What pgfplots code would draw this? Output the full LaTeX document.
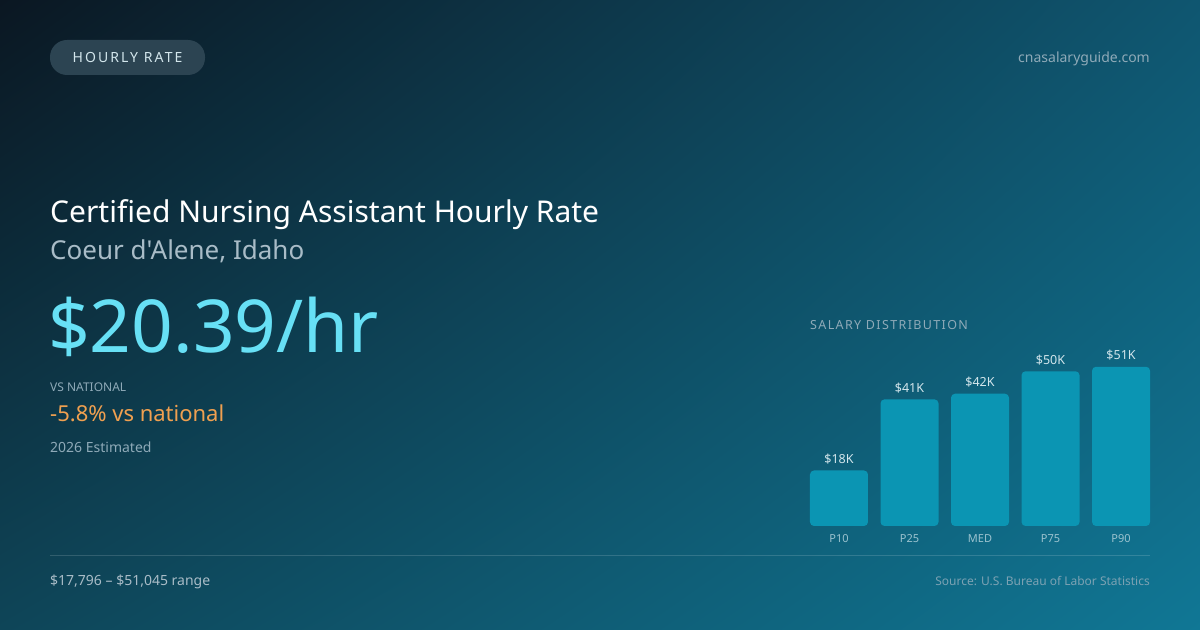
\documentclass[border=0pt]{standalone}
\usepackage{pgfplots}
\pgfplotsset{compat=1.18}
\usetikzlibrary{shadings}
\usepackage{fontspec}
\setmainfont{Noto Sans}
\newfontfamily\plainfont{Noto Sans}
\newfontfamily\spaced[LetterSpace=15]{Noto Sans}
\newfontfamily\spacedb[LetterSpace=11]{Noto Sans}
\newcommand\fs[1]{\fontsize{#1bp}{#1bp}\selectfont}

\definecolor{bgUL}{HTML}{0B1722}
\definecolor{bgUR}{HTML}{0F5670}
\definecolor{bgLL}{HTML}{0E4558}
\definecolor{bgLR}{HTML}{107795}
\definecolor{barcol}{HTML}{0B95B3}
\definecolor{bigcyan}{HTML}{67E0F5}
\definecolor{orangeT}{HTML}{F0A050}
\definecolor{mutedT}{HTML}{8FAAB8}
\definecolor{subT}{HTML}{A9BCC7}
\definecolor{lightT}{HTML}{D3E6EC}
\definecolor{tickT}{HTML}{9CC3CF}
\definecolor{badge}{HTML}{2C4452}

\begin{document}
\begin{tikzpicture}[x=1bp,y=1bp]
% background
\shade[upper left=bgUL, upper right=bgUR, lower left=bgLL, lower right=bgLR]
  (0,0) rectangle (1200,630);

% badge
\fill[badge, rounded corners=17bp] (50,555) rectangle (205,590);
\node[anchor=base, text=lightT, inner sep=0] at (127.5,567)
  {\spaced\fs{14}HOURLY RATE};
\node[anchor=base east, text=mutedT, inner sep=0] at (1150,567)
  {\fs{14}cnasalaryguide.com};

% headline block
\node[anchor=base west, text=white, inner sep=0] at (50,407)
  {\fs{30}Certified Nursing Assistant Hourly Rate};
\node[anchor=base west, text=subT, inner sep=0] at (50,370)
  {\plainfont\fs{26}Coeur d'Alene, Idaho};
\node[anchor=base west, text=bigcyan, inner sep=0] at (48,277)
  {\fs{73}\$20.39/hr};
\node[anchor=base west, text=mutedT, inner sep=0] at (50,238)
  {\fs{12}VS NATIONAL};
\node[anchor=base west, text=orangeT, inner sep=0] at (50,208)
  {\fs{22}-5.8\% vs national};
\node[anchor=base west, text=mutedT, inner sep=0] at (50,177)
  {\fs{14}2026 Estimated};

% chart caption
\node[anchor=base west, text=mutedT, inner sep=0] at (810,300)
  {\spacedb\fs{12.5}SALARY DISTRIBUTION};

% footer
\draw[white, opacity=0.15, line width=1bp] (50,74) -- (1150,74);
\node[anchor=base west, text=subT, inner sep=0] at (50,44)
  {\fs{14}\$17,796 -- \$51,045 range};
\node[anchor=base east, text=mutedT!85!bgLR, inner sep=0] at (1150,44)
  {\fs{12}Source: U.S. Bureau of Labor Statistics};

% salary distribution bars
\begin{axis}[
    at={(810bp,104bp)}, anchor=south west,
    scale only axis,
    width=340bp, height=170bp,
    xmin=-0.411, xmax=4.411,
    ymin=0, ymax=54.5,
    axis line style={draw=none},
    tick style={draw=none},
    ytick=\empty,
    xtick={0,1,2,3,4},
    xticklabels={P10,P25,MED,P75,P90},
    xticklabel style={text=tickT, font=\fs{11}, yshift=-1bp},
    ybar,
    bar width=58bp,
    point meta=explicit symbolic,
    nodes near coords,
    nodes near coords style={text=lightT, font=\fs{12.5}, anchor=south, yshift=3bp},
    clip=false,
  ]
  \addplot[draw=none, fill=barcol, rounded corners=4bp]
    coordinates {
      (0,17.796) [\$18K]
      (1,40.6)   [\$41K]
      (2,42.4)   [\$42K]
      (3,49.6)   [\$50K]
      (4,51.045) [\$51K]
    };
\end{axis}
\end{tikzpicture}
\end{document}
